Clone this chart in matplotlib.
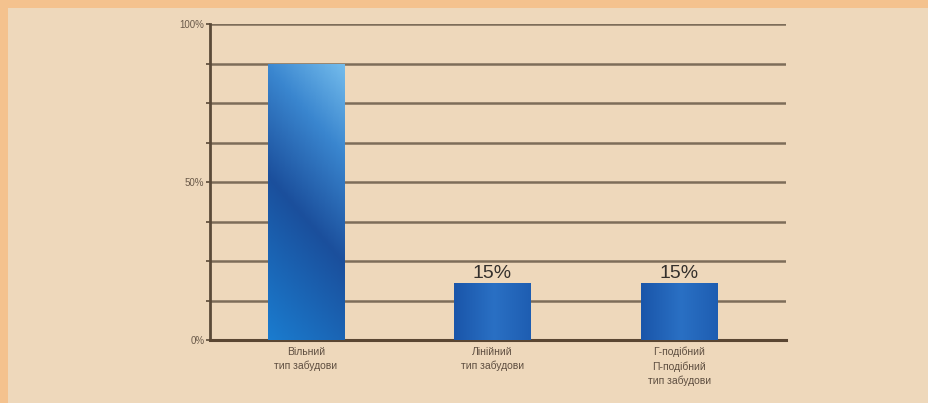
import matplotlib
matplotlib.use('Agg')
import numpy as np
from matplotlib import pyplot as plt
from matplotlib.patches import Rectangle
from matplotlib.colors import LinearSegmentedColormap

categories = ['Вільний\nтип забудови', 'Лінійний\nтип забудови',
              'Г-подібний\nП-подібний\nтип забудови']
values = [87.5, 18, 18]
bar_labels = ['', '15%', '15%']
major_ticks = [0, 50, 100]
tick_labels = ['0%', '50%', '100%']
minor_ticks = [12.5, 25, 37.5, 62.5, 75, 87.5]

plt.rcParams['font.family'] = ['Liberation Sans', 'DejaVu Sans']

fig = plt.figure(figsize=(9.29, 4.03), dpi=100)
fig.patch.set_facecolor('#f4c28e')
fig.patches.append(Rectangle((8 / 929, 0), 1, 1 - 8 / 403, transform=fig.transFigure,
                             facecolor='#eed8bb', edgecolor='none', zorder=-10))

ax = fig.add_axes([210 / 929, 63 / 403, 576 / 929, 316 / 403])
ax.set_zorder(5)
ax.set_facecolor('none')
x = np.arange(len(categories))
width = 0.41

bars = ax.bar(x, values, width=width, color='none', zorder=3)

tall = LinearSegmentedColormap.from_list(
    'tall', [(0, '#1a7ccf'), (0.45, '#1b4f9c'), (0.75, '#3a86cf'), (1, '#74bcec')])
short = LinearSegmentedColormap.from_list('short', ['#1a56aa', '#2a70c4', '#1d5cb0'])
for i, b in enumerate(bars):
    x0, h = b.get_x(), b.get_height()
    if h > 50:
        gy, gx = np.mgrid[0:1:200j, 0:1:50j]
        grad = gy * 0.8 + gx * 0.25
        cmap = tall
    else:
        grad = np.tile(np.linspace(0, 1, 50), (20, 1))
        cmap = short
    im = ax.imshow(grad, extent=[x0, x0 + width, 0, h], origin='lower',
                   aspect='auto', cmap=cmap, vmin=0, vmax=1.05, zorder=3)
    im.set_clip_path(b)
    if bar_labels[i]:
        ax.text(x[i], h + 0.3, bar_labels[i], ha='center', va='bottom',
                fontsize=14, color='#34302c', zorder=4)

ax.set_xlim(-0.514, 2.573)
ax.set_ylim(0, 100)
ax.set_yticks(major_ticks)
ax.set_yticklabels(tick_labels)
ax.set_yticks(minor_ticks, minor=True)
ax.set_xticks(x)
ax.set_xticklabels(categories, fontsize=7.5, color='#5e4e40', linespacing=1.45)
ax.tick_params(axis='x', length=0, pad=5)
ax.tick_params(axis='y', which='both', length=3, width=1.2, color='#5a4a38',
               labelsize=7, labelcolor='#6a5a4a', pad=1)
ax.grid(axis='y', which='both', color='#7d6d59', linewidth=1.8, zorder=1)
for s in ['top', 'right']:
    ax.spines[s].set_visible(False)
ax.spines['left'].set_color('#5a4a38')
ax.spines['left'].set_linewidth(2)
ax.spines['bottom'].set_color('#5a4632')
ax.spines['bottom'].set_linewidth(2.2)

plt.savefig('out.png', dpi=100, facecolor=fig.get_facecolor())
